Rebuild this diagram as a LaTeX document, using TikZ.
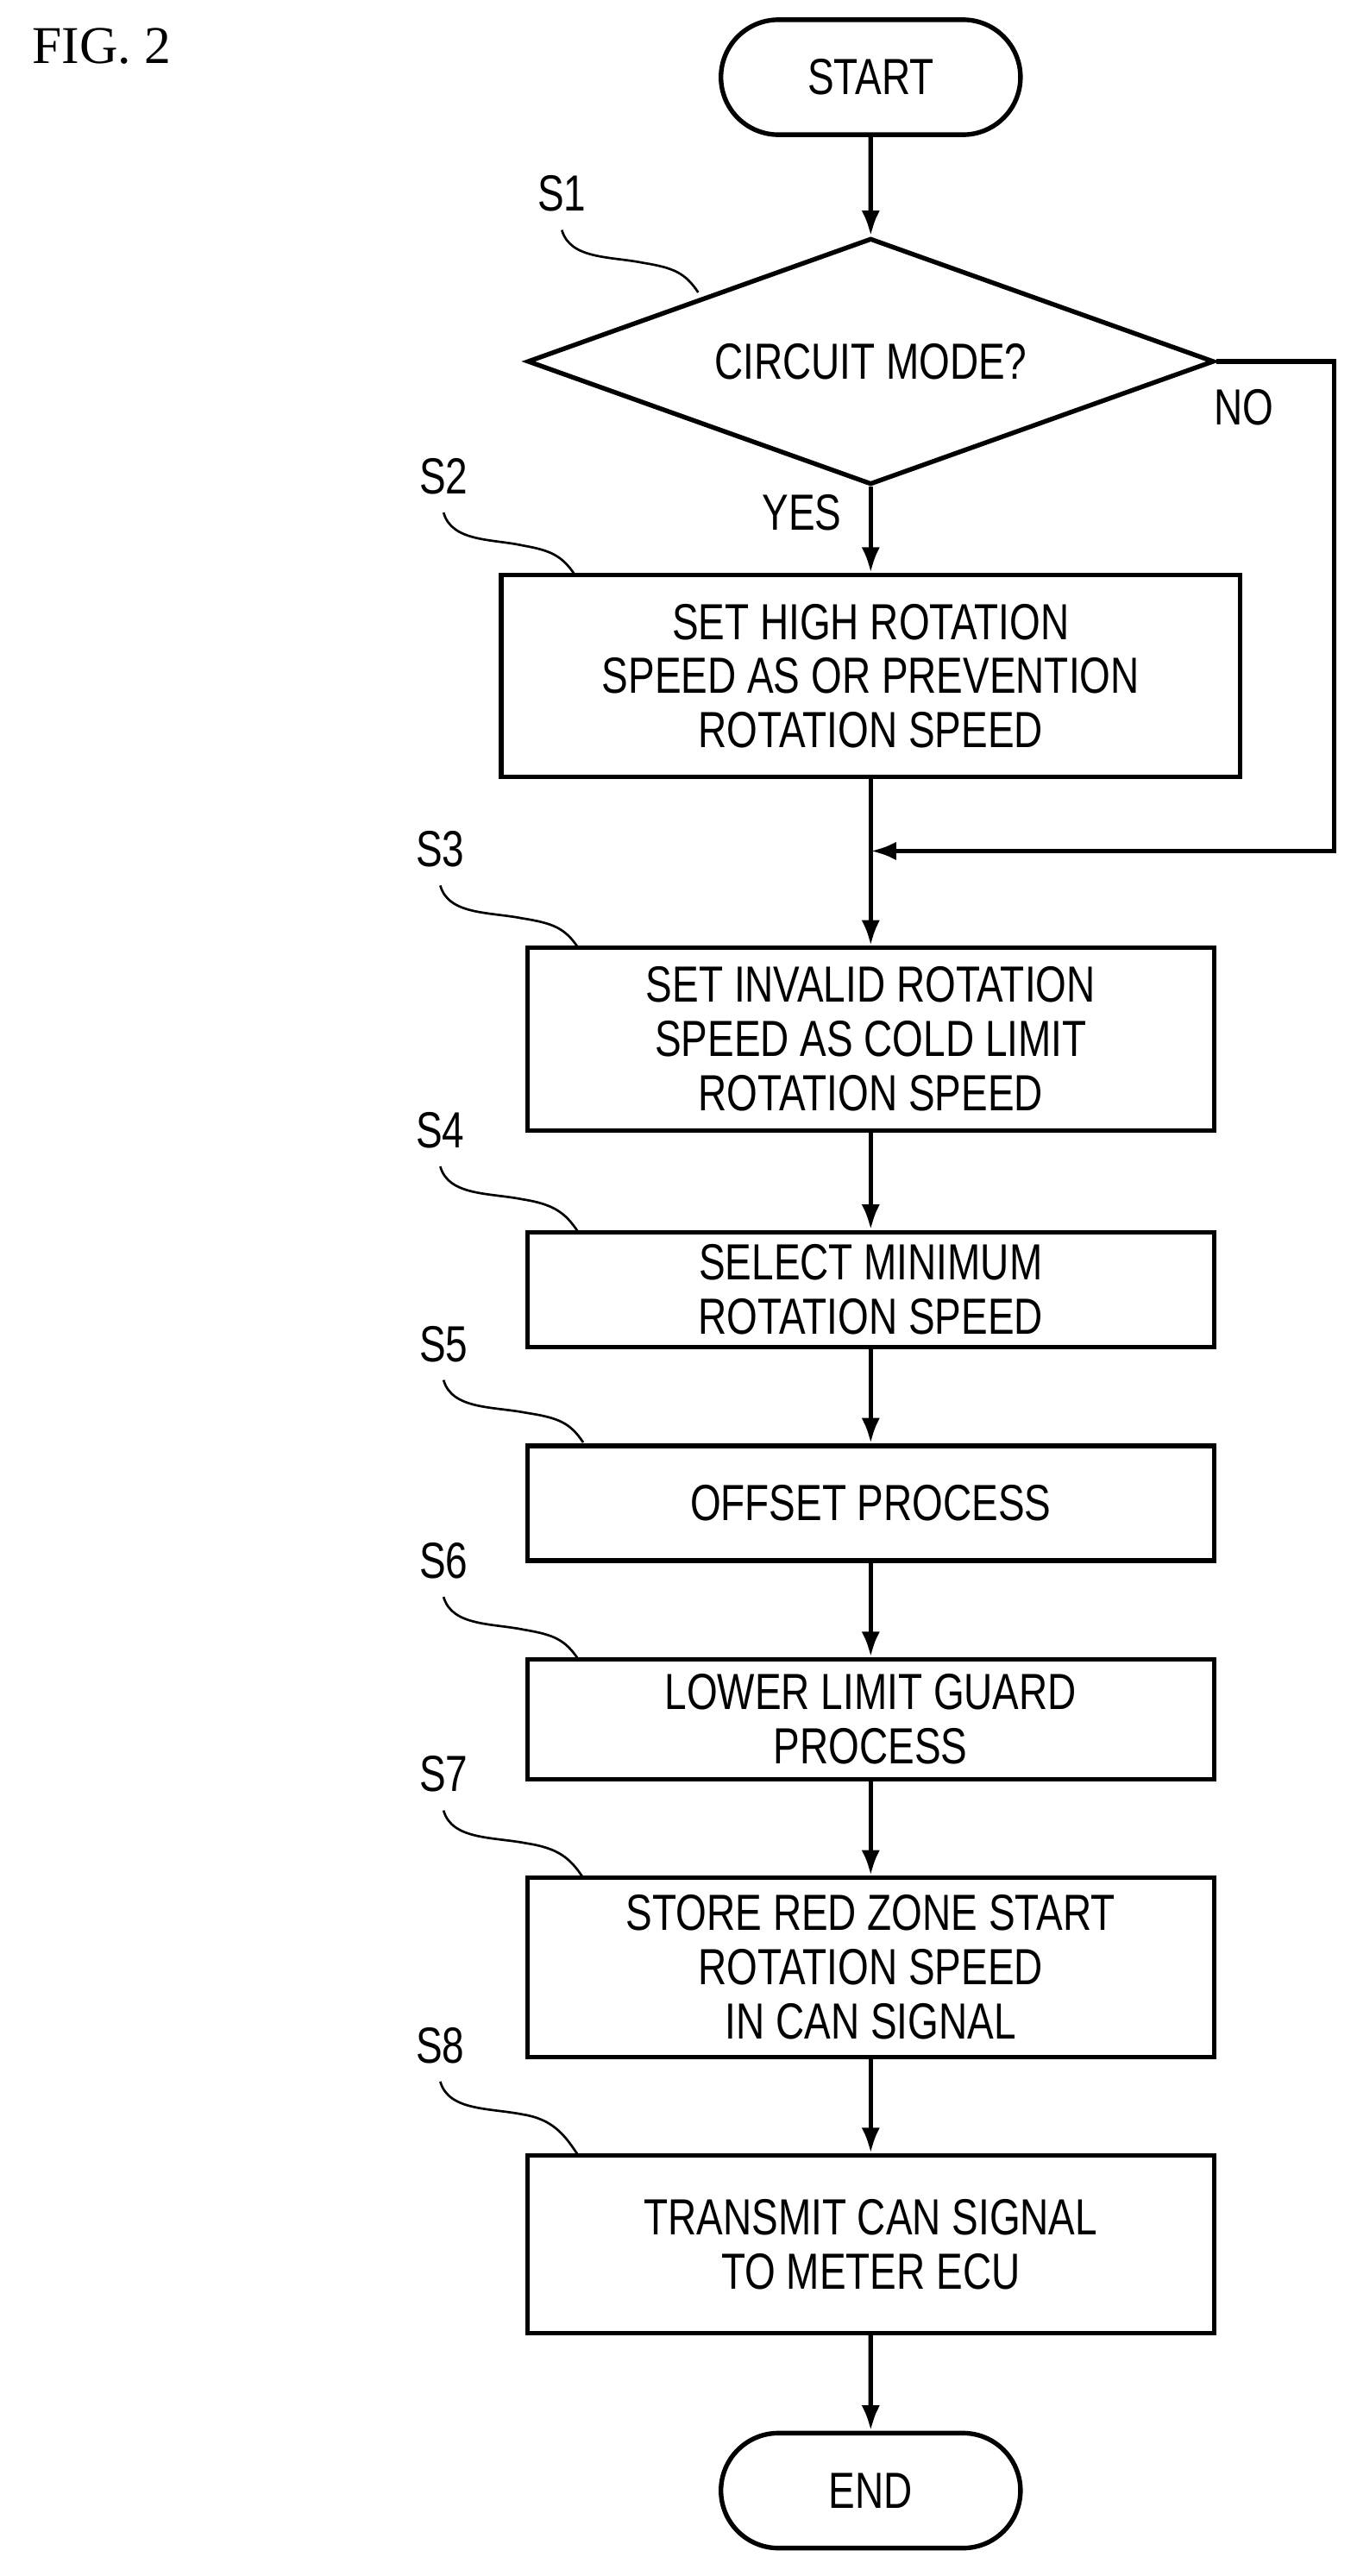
\documentclass[tikz,border=0pt]{standalone}
\usepackage{fontspec}
\setmainfont{Liberation Sans}[FakeStretch=0.78]
\newfontfamily\figfont{Liberation Serif}
\usetikzlibrary{shapes.geometric,shapes.misc,arrows.meta}
\begin{document}
\begin{tikzpicture}[x=0.05cm,y=-0.05cm,
  every path/.style={line width=4pt},
  box/.style={draw,rectangle,minimum width=20.9cm,align=center,inner sep=0pt,font=\fontsize{44}{47}\selectfont},
  term/.style={draw,rounded rectangle,minimum width=9.35cm,minimum height=3.5cm,font=\fontsize{44}{47}\selectfont},
  arr/.style={-{Latex[length=22pt,width=16pt]}},
  lbl/.style={font=\fontsize{44}{47}\selectfont},
  lead/.style={line width=2pt}]
\useasboundingbox (0,0) rectangle (826,1568);
\node[font=\figfont\fontsize{46}{50}\selectfont] (fig) at (62,28) {FIG. 2};
\node[term] (start) at (530,47) {START};
\node[draw,diamond,aspect=2.787,minimum width=20.9cm,minimum height=7.5cm,inner sep=0pt,lbl] (s1) at (530,220) {CIRCUIT MODE?};
\node[box,minimum width=22.5cm,minimum height=6.15cm] (s2) at (530,411.5) {SET HIGH ROTATION\\SPEED AS OR PREVENTION\\ROTATION SPEED};
\node[box,minimum height=5.55cm] (s3) at (530,632.5) {SET INVALID ROTATION\\SPEED AS COLD LIMIT\\ROTATION SPEED};
\node[box,minimum height=3.5cm] (s4) at (530,785) {SELECT MINIMUM\\ROTATION SPEED};
\node[box,minimum height=3.5cm] (s5) at (530,915) {OFFSET PROCESS};
\node[box,minimum height=3.65cm] (s6) at (530,1046.5) {LOWER LIMIT GUARD\\PROCESS};
\node[box,minimum height=5.45cm] (s7) at (530,1197.5) {STORE RED ZONE START\\ROTATION SPEED\\IN CAN SIGNAL};
\node[box,minimum height=5.4cm] (s8) at (530,1366) {TRANSMIT CAN SIGNAL\\TO METER ECU};
\node[term] (end) at (530,1516) {END};
\node[lbl] (no) at (757,248) {NO};
\node[lbl] (yes) at (488,312) {YES};
\coordinate (c1) at (812,220);
\coordinate (c2) at (812,518);
\coordinate (j) at (530,518);
\draw[arr] (start) -- (s1);
\draw[arr] (s1.south) -- (s2.north);
\draw[arr] (s2.south) -- (s3.north);
\draw[arr] (s1.east) -- (c1) -- (c2) -- (j);
\draw[arr] (s3) -- (s4);
\draw[arr] (s4) -- (s5);
\draw[arr] (s5) -- (s6);
\draw[arr] (s6) -- (s7);
\draw[arr] (s7) -- (s8);
\draw[arr] (s8) -- (end);
\foreach \n/\lx/\ly/\tx/\ty in {1/342/118/425/178, 2/270/290/350/350, 3/268/517/352/577, 4/268/688/352/750, 5/270/818/355/878, 6/270/950/352/1010, 7/270/1080/355/1143, 8/268/1245/352/1312}{
  \node[lbl] (L\n) at (\lx,\ly) {S\n};
  \coordinate (T\n) at (\tx,\ty);
  \draw[lead] (\lx,\ly+22) .. controls (\lx+5,\ly+40) and (\lx+30,\ly+38) .. ({(\lx+\tx)/2+8},\ly+42) .. controls (\tx-15,\ly+45) and (\tx-8,\ty-12) .. (T\n);
}
\end{tikzpicture}
\end{document}
